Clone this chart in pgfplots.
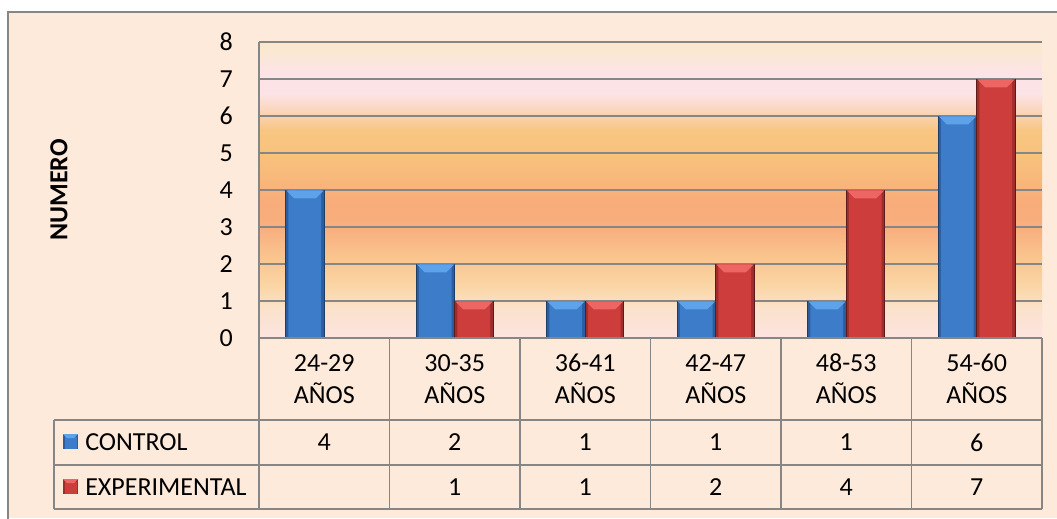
\documentclass[border=0pt]{standalone}
\usepackage{pgfplots}
\pgfplotsset{compat=1.18}
\usepackage{pgfplotstable}
\usepackage{fontspec}
\setmainfont{Carlito}

\definecolor{bgpeach}{HTML}{FDEADA}
\definecolor{gridgray}{HTML}{868686}
\definecolor{ctrlblue}{HTML}{3D7CC8}
\definecolor{ctrledge}{HTML}{2C5E9F}
\definecolor{ctrlline}{HTML}{1E3E6A}
\definecolor{ctrltop}{HTML}{5EA2EA}
\definecolor{exred}{HTML}{CC3D3C}
\definecolor{exedge}{HTML}{9E2D2C}
\definecolor{exline}{HTML}{5E1A1A}
\definecolor{extop}{HTML}{EE6664}
% plot-area gradient stops
\definecolor{g80}{HTML}{FAE9C9}
\definecolor{g76}{HTML}{FBE7D8}
\definecolor{g72}{HTML}{FCE4E6}
\definecolor{g66}{HTML}{FCE3E6}
\definecolor{g61}{HTML}{F9D4B6}
\definecolor{g56}{HTML}{F8C682}
\definecolor{g50}{HTML}{F8C27C}
\definecolor{g43}{HTML}{F8B87B}
\definecolor{g37}{HTML}{F8AC7A}
\definecolor{g30}{HTML}{F8AE7E}
\definecolor{g22}{HTML}{F9C48E}
\definecolor{g14}{HTML}{FAD6A6}
\definecolor{g08}{HTML}{FBE2CC}
\definecolor{g00}{HTML}{FCE3E0}

\pgfplotstableread{
x v
0 4
1 2
2 1
3 1
4 1
5 6
}\ctrl
\pgfplotstableread{
x v
1 1
2 1
3 2
4 4
5 7
}\expt

\newcommand{\band}[4]{\shade[top color=#2, bottom color=#4] (axis cs:-0.5,#3) rectangle (axis cs:5.5,#1);}

% bevelled top of a bar, drawn as an empty node at the bar's value
\pgfplotsset{
  bevel/.style 2 args={
    nodes near coords={},
    nodes near coords style={anchor=north, shape=rectangle, inner sep=0pt, xshift=#2,
      minimum width=28.4pt, minimum height=6pt, draw=none,
      path picture={\fill[#1] (path picture bounding box.north west) -- (path picture bounding box.north east)
        -- ([xshift=-6pt]path picture bounding box.south east) -- ([xshift=6pt]path picture bounding box.south west) -- cycle;}}
  }
}

\begin{document}
\fontsize{19.5}{23}\selectfont
\begin{tikzpicture}
\begin{axis}[
  at={(194.25pt,-253.5pt)}, anchor=south west,
  scale only axis, width=587.25pt, height=222pt,
  xmin=-0.5, xmax=5.5, ymin=0, ymax=8,
  clip=false, set layers,
  axis line style={draw=none},
  ymajorgrids, grid style={gridgray, line width=1.1pt},
  major tick length=0pt,
  ytick={0,...,8},
  /pgf/number format/assume math mode=true,
  yticklabel style={anchor=east, inner sep=0pt, xshift=-19.5pt, font=\fontsize{19.5}{23}\selectfont},
  xtick={0,...,5},
  xticklabels={{24-29\\AÑOS},{30-35\\AÑOS},{36-41\\AÑOS},{42-47\\AÑOS},{48-53\\AÑOS},{54-60\\AÑOS}},
  xticklabel style={align=center, anchor=center, inner sep=0pt, yshift=-30.75pt, font=\fontsize{19.5}{24}\selectfont},
  ylabel={NUMERO},
  ylabel style={at={(axis description cs:-0.2554,0.5)}, anchor=center, font=\fontsize{19.5}{23}\selectfont\bfseries},
]
\begin{pgfonlayer}{axis background}
  \fill[bgpeach] (axis cs:-2.423,8.811) rectangle (axis cs:5.62,-4.87);
  \draw[gridgray, line width=1.5pt] (axis cs:-2.423,-4.9) -- (axis cs:-2.423,8.811) -- (axis cs:5.7,8.811);
  \band{8}{g80}{7.6}{g76}
  \band{7.6}{g76}{7.2}{g72}
  \band{7.2}{g72}{6.6}{g66}
  \band{6.6}{g66}{6.1}{g61}
  \band{6.1}{g61}{5.6}{g56}
  \band{5.6}{g56}{5.0}{g50}
  \band{5.0}{g50}{4.3}{g43}
  \band{4.3}{g43}{3.7}{g37}
  \band{3.7}{g37}{3.0}{g30}
  \band{3.0}{g30}{2.2}{g22}
  \band{2.2}{g22}{1.4}{g14}
  \band{1.4}{g14}{0.8}{g08}
  \band{0.8}{g08}{0}{g00}
\end{pgfonlayer}

% CONTROL bars: dark edge, face, bevelled top
\addplot[ybar, bar width=0.295, bar shift=-0.1475, draw=ctrlline, line width=0.6pt, fill=ctrledge]
  table[x=x, y=v] {\ctrl};
\addplot[ybar, bar width=0.25, bar shift=-0.1495, draw=none, fill=ctrlblue]
  table[x=x, y=v] {\ctrl};
\addplot[ybar, bar width=0.295, bar shift=-0.1475, draw=none, fill=none, bevel={ctrltop}{-14.44pt}]
  table[x=x, y=v] {\ctrl};
% EXPERIMENTAL bars
\addplot[ybar, bar width=0.295, bar shift=0.1475, draw=exline, line width=0.6pt, fill=exedge]
  table[x=x, y=v] {\expt};
\addplot[ybar, bar width=0.25, bar shift=0.1455, draw=none, fill=exred]
  table[x=x, y=v] {\expt};
\addplot[ybar, bar width=0.295, bar shift=0.1475, draw=none, fill=none, bevel={extop}{14.44pt}]
  table[x=x, y=v] {\expt};

% data table values
\addplot[draw=none, mark=none, nodes near coords, point meta=explicit,
  nodes near coords style={anchor=center, inner sep=0pt, font=\fontsize{19.5}{23}\selectfont}]
  table[x=x, y expr=-2.82, meta=v] {\ctrl};
\addplot[draw=none, mark=none, nodes near coords, point meta=explicit,
  nodes near coords style={anchor=center, inner sep=0pt, font=\fontsize{19.5}{23}\selectfont}]
  table[x=x, y expr=-4.03, meta=v] {\expt};

% data table grid
\begin{scope}[gridgray, line width=1.1pt]
  \draw (axis cs:-0.5,8) -- (axis cs:-0.5,-4.62);
  \draw (axis cs:0.5,0) -- (axis cs:0.5,-4.62);
  \draw (axis cs:1.5,0) -- (axis cs:1.5,-4.62);
  \draw (axis cs:2.5,0) -- (axis cs:2.5,-4.62);
  \draw (axis cs:3.5,0) -- (axis cs:3.5,-4.62);
  \draw (axis cs:4.5,0) -- (axis cs:4.5,-4.62);
  \draw (axis cs:5.5,0) -- (axis cs:5.5,-4.62);
  \draw (axis cs:-2.071,-2.22) -- (axis cs:5.5,-2.22);
  \draw (axis cs:-2.071,-3.43) -- (axis cs:5.5,-3.43);
  \draw (axis cs:-2.071,-4.62) -- (axis cs:5.5,-4.62);
  \draw (axis cs:-2.071,-2.22) -- (axis cs:-2.071,-4.62);
  \draw (axis cs:-0.5,0) -- (axis cs:5.5,0);
\end{scope}
\end{axis}
\begin{scope}[x=0.75pt,y=-0.75pt]
  \fill[ctrledge] (63,434) rectangle (78,449);
  \fill[ctrlblue] (64.5,437) rectangle (76.5,449);
  \fill[ctrltop] (63,434) -- (78,434) -- (74,438) -- (67,438) -- cycle;
  \fill[exedge] (63,479) rectangle (78,494);
  \fill[exred] (64.5,482) rectangle (76.5,494);
  \fill[extop] (63,479) -- (78,479) -- (74,483) -- (67,483) -- cycle;
  \node[anchor=west, inner sep=0pt] at (85,442) {CONTROL};
  \node[anchor=west, inner sep=0pt] at (85,487) {EXPERIMENTAL};
\end{scope}
\pgfresetboundingbox
\path[use as bounding box] (0,0) rectangle (792.75pt,-388.5pt);
\end{tikzpicture}
\end{document}
